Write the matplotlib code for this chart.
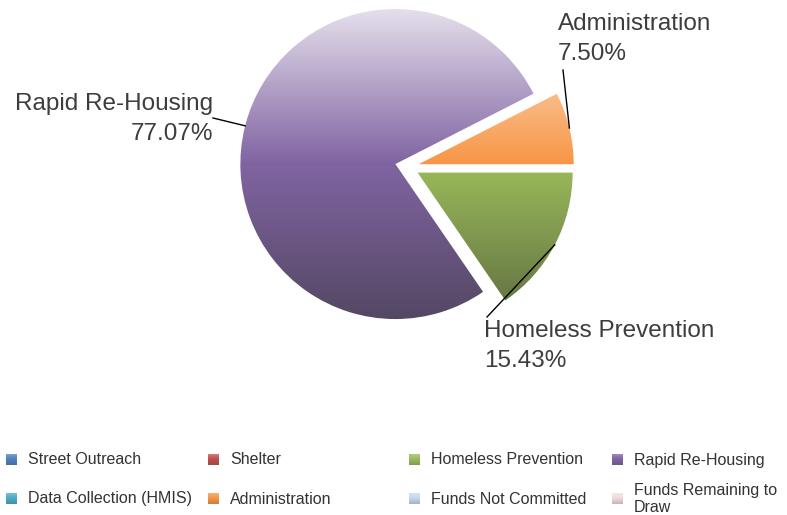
import textwrap
import numpy as np
import matplotlib
matplotlib.use("Agg")
import matplotlib.pyplot as plt
from matplotlib.colors import to_rgb

# data
categories = ["Street Outreach", "Shelter", "Homeless Prevention", "Rapid Re-Housing",
              "Data Collection (HMIS)", "Administration", "Funds Not Committed",
              "Funds Remaining to Draw"]
values = [0, 0, 15.43, 77.07, 0, 7.50, 0, 0]
colors = ["#4f81bd", "#c0504d", "#9bbb59", "#8064a2",
          "#4bacc6", "#f79646", "#c6d9f1", "#f2dcdb"]

W, H = 787, 515
plt.rcParams['font.family'] = ['Liberation Sans', 'DejaVu Sans']
TXT = "#3d3d3d"


def py(y):
    # pixel row (top down) -> data y (bottom up)
    return H - y


def shade(color, t):
    """ top of pie -> light, middle -> base color, bottom -> dark """
    c = np.array(to_rgb(color))
    t = np.clip(t, 0, 1)[:, None]
    light = c + (1 - c) * 0.8 * np.clip((0.5 - t) / 0.5, 0, 1)
    dark = c + (np.array([0.19, 0.19, 0.19]) - c) * 0.55 * np.clip((t - 0.5) / 0.5, 0, 1)
    return np.where(t < 0.5, light, dark)


fig = plt.figure(figsize=(W / 100, H / 100), dpi=100)
ax = fig.add_axes([0, 0, 1, 1])

# only the slices that have a value
idx = [i for i, v in enumerate(values) if v > 0]
vals = [values[i] for i in idx]
cols = [colors[i] for i in idx]

cx, cy, r = 407, py(167), 155
wedges, _ = ax.pie(vals, colors=cols, startangle=0, counterclock=False,
                   radius=r, center=(cx, cy), explode=[12] * len(vals),
                   wedgeprops=dict(edgecolor="white", linewidth=1))

# vertical gradient over each slice
top_px, bot_px = 8, 318
rows = np.arange(0, 340)
t = (rows - top_px) / (bot_px - top_px)
for w, c in zip(wedges, cols):
    img = shade(c, t)[:, None, :]
    im = ax.imshow(img, extent=[200, 620, py(340), py(0)], origin="upper",
                   aspect="auto", interpolation="bilinear", zorder=2)
    im.set_clip_path(w)

# labels with leader lines
label_pos = {
    "Rapid Re-Housing": ((213, 118), (213, 119), "right"),
    "Administration": ((563, 70), (558, 39), "left"),
    "Homeless Prevention": ((487, 317), (484, 346), "left"),
}
for w, i in zip(wedges, idx):
    name = categories[i]
    (lx, ly), (tx, ty), ha = label_pos[name]
    mid = np.deg2rad((w.theta1 + w.theta2) / 2)
    sx = w.center[0] + w.r * np.cos(mid)
    sy = w.center[1] + w.r * np.sin(mid)
    ax.plot([sx, lx], [sy, py(ly)], color="black", lw=1, zorder=3)
    ax.text(tx, py(ty), f"{name}\n{values[i]:.2f}%", ha=ha, va="center",
            multialignment=ha, fontsize=17.5, color=TXT, linespacing=1.45)

# legend, 4 columns x 2 rows
col_x = [6, 208, 409, 612]
row_y = [460, 499]
for i, name in enumerate(categories):
    x0 = col_x[i % 4]
    y0 = row_y[i // 4]
    sq = np.linspace(0.35, 0.7, 20)
    ax.imshow(shade(colors[i], sq)[:, None, :], extent=[x0, x0 + 11, py(y0 + 5.5), py(y0 - 5.5)],
              origin="upper", aspect="auto", interpolation="bilinear", zorder=2)
    label = textwrap.fill(name, 18) if i % 4 == 3 else name
    ax.text(x0 + 22, py(y0), label, ha="left", va="center", fontsize=11.5,
            color="#333333", linespacing=1.2)

ax.set_xlim(0, W)
ax.set_ylim(0, H)
ax.set_aspect("equal")
ax.axis("off")

fig.savefig("out.png", dpi=100)
